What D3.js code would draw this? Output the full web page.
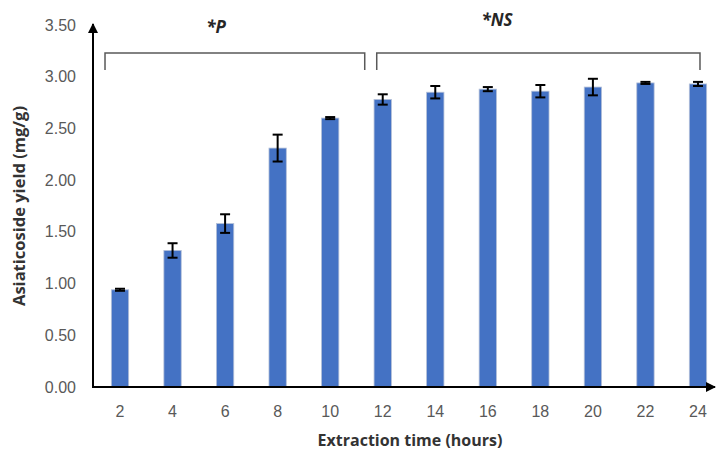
<!DOCTYPE html>
<html>
<head>
<meta charset="utf-8">
<script src="https://cdn.jsdelivr.net/npm/d3@7"></script>
<style>
  body { margin: 0; background: #fff; }
  svg { display: block; font-family: "Open Sans", sans-serif; }
</style>
</head>
<body>
<svg id="chart" width="716" height="451"></svg>
<script>
// extraction time (hours) and asiaticoside yield (mg/g) with error
var hours = [ 2, 4, 6, 8, 10, 12, 14, 16, 18, 20, 22, 24 ];
var yieldVals = [ 0.94, 1.32, 1.58, 2.31, 2.60, 2.78, 2.85, 2.88, 2.86, 2.90, 2.94, 2.93 ];
var yieldErr = [ 0.01, 0.07, 0.09, 0.13, 0.01, 0.05, 0.06, 0.02, 0.06, 0.08, 0.01, 0.02 ];
var yTicks = [ 0, 0.5, 1, 1.5, 2, 2.5, 3, 3.5 ];
// significance groups
var groups = [
	{ label: '*P', from: 2, to: 12 },
	{ label: '*NS', from: 12, to: 24 }
];

var svg = d3.select( '#chart' );

var x = d3.scaleBand()
	.domain( hours )
	.range( [ 94, 724 ] )
	.paddingInner( 0.67 )
	.paddingOuter( 0.33 );

var y = d3.scaleLinear()
	.domain( [ 0, 3.5 ] )
	.range( [ 387, 25 ] );

var axisColor = '#000';
var textColor = '#595959';
var titleColor = '#333';

// bars
svg.selectAll( 'rect.bar' )
	.data( hours )
	.enter().append( 'rect' )
	.attr( 'class', 'bar' )
	.attr( 'x', function( d ) { return x( d ); } )
	.attr( 'width', x.bandwidth() )
	.attr( 'y', function( d, i ) { return y( yieldVals[ i ] ); } )
	.attr( 'height', function( d, i ) { return y( 0 ) - y( yieldVals[ i ] ); } )
	.attr( 'fill', '#4472c4' )
	.attr( 'stroke', '#b4c0d8' )
	.attr( 'stroke-width', 0.8 );

// error bars
var eb = svg.append( 'g' ).attr( 'stroke', '#000' ).attr( 'stroke-width', 2 );
hours.forEach( function( d, i ) {
	var cx = x( d ) + x.bandwidth() / 2,
		hi = y( yieldVals[ i ] + yieldErr[ i ] ),
		lo = y( yieldVals[ i ] - yieldErr[ i ] );
	eb.append( 'line' ).attr( 'x1', cx ).attr( 'x2', cx ).attr( 'y1', hi ).attr( 'y2', lo );
	eb.append( 'line' ).attr( 'x1', cx - 5 ).attr( 'x2', cx + 5 ).attr( 'y1', hi ).attr( 'y2', hi );
	eb.append( 'line' ).attr( 'x1', cx - 5 ).attr( 'x2', cx + 5 ).attr( 'y1', lo ).attr( 'y2', lo );
} );

// axes with arrows
var defs = svg.append( 'defs' );
defs.append( 'marker' )
	.attr( 'id', 'arrow' )
	.attr( 'viewBox', '0 0 10 10' )
	.attr( 'refX', 9 ).attr( 'refY', 5 )
	.attr( 'markerWidth', 5 ).attr( 'markerHeight', 5 )
	.attr( 'orient', 'auto' )
	.append( 'path' ).attr( 'd', 'M0,0L10,5L0,10z' ).attr( 'fill', axisColor );

svg.append( 'line' )
	.attr( 'x1', 93 ).attr( 'x2', 93 )
	.attr( 'y1', y( 0 ) + 1 ).attr( 'y2', y( 3.5 ) - 1 )
	.attr( 'stroke', axisColor ).attr( 'stroke-width', 2 )
	.attr( 'marker-end', 'url(#arrow)' );

svg.append( 'line' )
	.attr( 'x1', 92 ).attr( 'x2', 715 )
	.attr( 'y1', y( 0 ) ).attr( 'y2', y( 0 ) )
	.attr( 'stroke', axisColor ).attr( 'stroke-width', 2 )
	.attr( 'marker-end', 'url(#arrow)' );

// y tick labels
var yAxis = svg.append( 'g' )
	.attr( 'transform', 'translate(93,0)' )
	.call( d3.axisLeft( y ).tickValues( yTicks ).tickFormat( d3.format( '.2f' ) ).tickSize( 0 ).tickPadding( 17 ) );
yAxis.select( '.domain' ).remove();
yAxis.selectAll( 'text' ).attr( 'fill', textColor ).style( 'font-size', '16px' );

// x tick labels
var xAxis = svg.append( 'g' )
	.attr( 'transform', 'translate(0,' + y( 0 ) + ')' )
	.call( d3.axisBottom( x ).tickSize( 0 ).tickPadding( 19 ) );
xAxis.select( '.domain' ).remove();
xAxis.selectAll( 'text' ).attr( 'fill', textColor ).style( 'font-size', '16px' );

// axis titles
svg.append( 'text' )
	.attr( 'x', 410 ).attr( 'y', 446 )
	.attr( 'text-anchor', 'middle' )
	.style( 'font-size', '16px' ).style( 'font-weight', 'bold' )
	.attr( 'fill', titleColor )
	.text( 'Extraction time (hours)' );

svg.append( 'text' )
	.attr( 'transform', 'translate(25,206) rotate(-90)' )
	.attr( 'text-anchor', 'middle' )
	.style( 'font-size', '16.5px' ).style( 'font-weight', 'bold' )
	.attr( 'fill', titleColor )
	.text( 'Asiaticoside yield (mg/g)' );

// significance brackets
var bracketOffsets = [ [ -15, -18 ], [ -6, 2 ] ];
groups.forEach( function( g, i ) {
	var x0 = x( g.from ) + x.bandwidth() / 2 + bracketOffsets[ i ][ 0 ],
		x1 = x( g.to ) + x.bandwidth() / 2 + bracketOffsets[ i ][ 1 ];
	svg.append( 'path' )
		.attr( 'd', 'M' + x0 + ',70V53H' + x1 + 'V70' )
		.attr( 'fill', 'none' )
		.attr( 'stroke', '#595959' )
		.attr( 'stroke-width', 1.5 );
	svg.append( 'text' )
		.attr( 'x', i === 0 ? 216 : 497 )
		.attr( 'y', i === 0 ? 33 : 26 )
		.attr( 'text-anchor', 'middle' )
		.style( 'font-size', '17px' ).style( 'font-weight', 'bold' ).style( 'font-style', 'italic' )
		.attr( 'fill', '#262626' )
		.text( g.label );
} );
</script>
</body>
</html>
